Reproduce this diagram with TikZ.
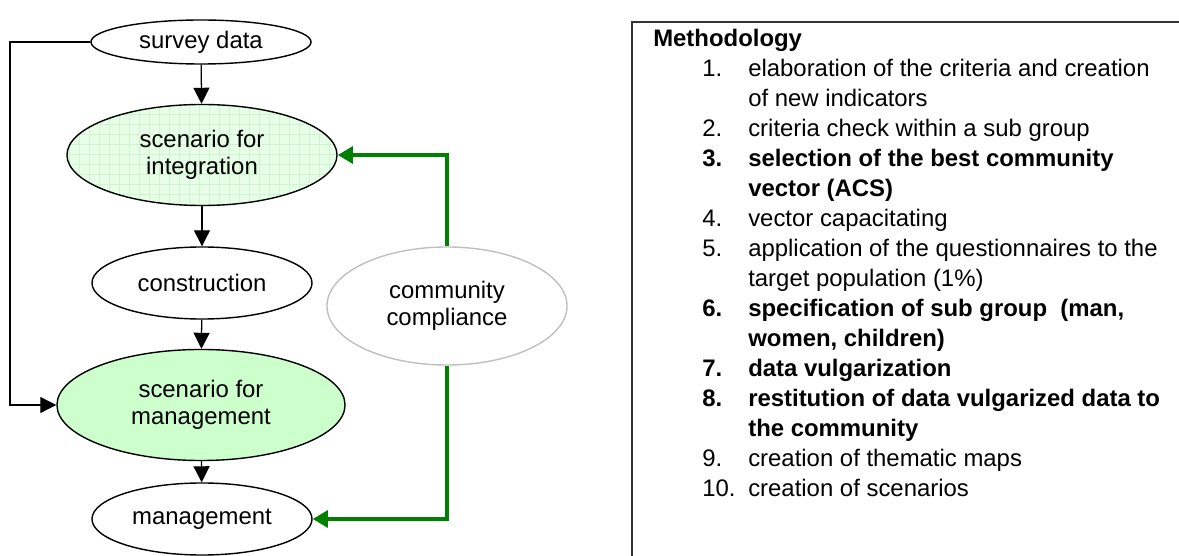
\documentclass[tikz,border=0pt]{standalone}
\usepackage{fontspec}
\setmainfont{Liberation Sans}
\usepackage{array}
\usetikzlibrary{arrows.meta, shapes.geometric}
\definecolor{paleGreen}{HTML}{CCFFCC}
\definecolor{gridGreen}{HTML}{E6FFE6}
\definecolor{gridLine}{HTML}{D0F4D0}
\definecolor{loopGreen}{HTML}{008000}
\def\stp{node[ellipse, draw, line width=1pt, inner sep=0pt, align=center, font=\fontsize{17}{19.2}\selectfont]}

\begin{document}
\begin{tikzpicture}[x=0.025cm, y=-0.025cm,
    flow/.style={line width=0.9pt, -{Triangle[length=0.4cm, width=0.4cm]}},
    back/.style={line width=2.8pt, color=loopGreen, -{Triangle[length=0.38cm, width=0.42cm]}},
    gridfill/.style={fill=gridGreen, path picture={\draw[gridLine, line width=0.4pt, step=0.25cm] (path picture bounding box.south west) grid (path picture bounding box.north east);}}]
        \useasboundingbox (0,0) rectangle (1179,556);
        \draw (201,42) \stp[minimum width=5.5cm, minimum height=1.1cm] (survey) {survey data};
        \draw (202,155) \stp[gridfill, minimum width=6.75cm, minimum height=2.525cm] (integ) {scenario for\\integration};
        \draw (202,283) \stp[minimum width=5.5cm, minimum height=1.8cm] (constr) {construction};
        \draw (201,405) \stp[fill=paleGreen, minimum width=7.2cm, minimum height=2.775cm] (mgmtsc) {scenario for\\management};
        \draw (202,519) \stp[minimum width=5.5cm, minimum height=1.8cm] (mgmt) {management};
        \draw (447,306) \stp[draw=black!25, minimum width=6cm, minimum height=2.95cm] (comply) {community\\compliance};
        \coordinate (bend) at (10,42);
        \draw[flow] (survey) -- (integ);
        \draw[flow] (integ) -- (constr);
        \draw[flow] (constr) -- (mgmtsc);
        \draw[flow] (mgmtsc) -- (mgmt);
        \draw[flow] (survey.west) -- (bend) |- (mgmtsc.west);
        \draw[back] (comply.north) |- (integ.east);
        \draw[back] (comply.south) |- (mgmt.east);
        \begin{scope}
        \clip (0,0) rectangle (1179,556);
        \draw[line width=1.1pt, black!80] (632,22) rectangle (1250,620);
        \end{scope}
        \node[anchor=north west, inner sep=0pt, font=\fontsize{17}{21.34}\selectfont] (method) at (653,25) {%
          \begin{tabular}{@{\hspace{1.225cm}}p{1.15cm}@{}l@{}}
          \multicolumn{2}{@{}l@{}}{\textbf{Methodology}}\\
          1. & elaboration of the criteria and creation\\
             & of new indicators\\
          2. & criteria check within a sub group\\
          \textbf{3.} & \textbf{selection of the best community}\\
             & \textbf{vector (ACS)}\\
          4. & vector capacitating\\
          5. & application of the questionnaires to the\\
             & target population (1\%)\\
          \textbf{6.} & \textbf{specification of sub group\ \ (man,}\\
             & \textbf{women, children)}\\
          \textbf{7.} & \textbf{data vulgarization}\\
          \textbf{8.} & \textbf{restitution of data vulgarized data to}\\
             & \textbf{the community}\\
          9. & creation of thematic maps\\
          10. & creation of scenarios
          \end{tabular}};
      \end{tikzpicture}
\end{document}
